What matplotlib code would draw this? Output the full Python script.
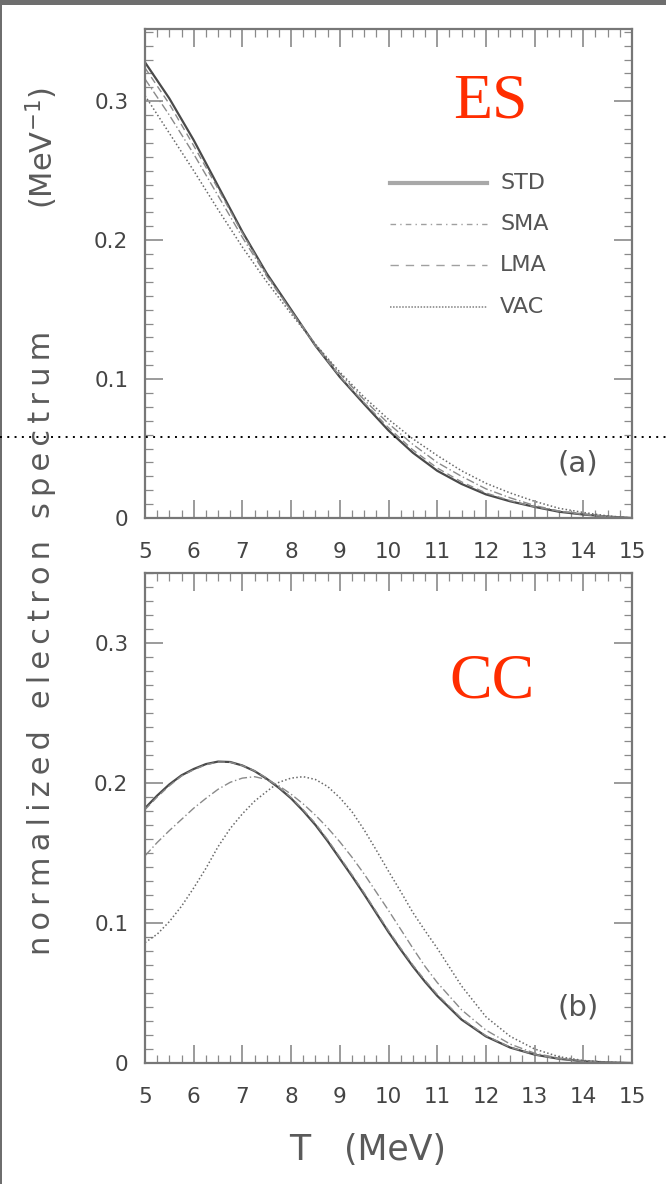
import numpy as np
import matplotlib.pyplot as plt
from matplotlib.lines import Line2D
from matplotlib.patches import Rectangle
from matplotlib.ticker import MultipleLocator

# kinetic energy grid (MeV) for panel (a)
T_es = [5.0, 5.5, 6.0, 6.5, 7.0, 7.5, 8.0, 8.5, 9.0, 9.5, 10.0,
        10.5, 11.0, 11.5, 12.0, 12.5, 13.0, 13.5, 14.0, 14.5, 15.0]

# (a) ES spectra
es_std = [0.328, 0.302, 0.272, 0.239, 0.206, 0.176, 0.150, 0.124, 0.1015, 0.082, 0.063,
          0.047, 0.034, 0.0245, 0.017, 0.012, 0.008, 0.0045, 0.0025, 0.001, 0.0]
es_sma = [0.316, 0.290, 0.262, 0.232, 0.202, 0.174, 0.149, 0.125, 0.104, 0.085, 0.068,
          0.053, 0.040, 0.030, 0.021, 0.0145, 0.009, 0.005, 0.003, 0.001, 0.0]
es_lma = [0.324, 0.298, 0.268, 0.237, 0.205, 0.175, 0.149, 0.124, 0.102, 0.083, 0.065,
          0.049, 0.036, 0.026, 0.018, 0.0125, 0.008, 0.005, 0.0025, 0.001, 0.0]
es_vac = [0.304, 0.277, 0.250, 0.222, 0.195, 0.170, 0.147, 0.125, 0.105, 0.087, 0.071,
          0.057, 0.045, 0.034, 0.025, 0.018, 0.012, 0.007, 0.004, 0.0015, 0.0]

# grid for panel (b), finer where the curves bend
T_cc = [5.0, 5.25, 5.5, 5.75, 6.0, 6.25, 6.5, 6.75, 7.0, 7.25, 7.5, 7.75,
        8.0, 8.25, 8.5, 8.75, 9.0, 9.25, 9.5, 9.75, 10.0, 10.25, 10.5, 10.75,
        11.0, 11.5, 12.0, 12.5, 13.0, 13.5, 14.0, 14.5, 15.0]

# (b) CC spectra
cc_std = [0.182, 0.191, 0.199, 0.2055, 0.210, 0.2135, 0.2153, 0.2150, 0.2125, 0.2085, 0.203, 0.1965,
          0.189, 0.180, 0.170, 0.1585, 0.146, 0.1335, 0.1205, 0.107, 0.0935, 0.081, 0.069, 0.058,
          0.048, 0.031, 0.019, 0.011, 0.006, 0.003, 0.0012, 0.0004, 0.0]
cc_sma = [0.148, 0.1575, 0.166, 0.174, 0.182, 0.189, 0.1955, 0.2005, 0.2035, 0.2045, 0.2025, 0.198,
          0.192, 0.185, 0.177, 0.168, 0.158, 0.147, 0.135, 0.122, 0.109, 0.0955, 0.082, 0.069,
          0.0575, 0.038, 0.0235, 0.0135, 0.007, 0.0035, 0.0015, 0.0005, 0.0]
cc_lma = [0.181, 0.190, 0.198, 0.205, 0.2095, 0.213, 0.215, 0.2148, 0.2125, 0.2087, 0.2035, 0.197,
          0.1897, 0.1808, 0.171, 0.1595, 0.147, 0.1345, 0.1215, 0.108, 0.0945, 0.082, 0.070, 0.059,
          0.049, 0.0318, 0.0195, 0.0113, 0.006, 0.003, 0.0012, 0.0004, 0.0]
cc_vac = [0.086, 0.092, 0.101, 0.112, 0.125, 0.139, 0.1545, 0.1675, 0.178, 0.187, 0.194, 0.2005,
          0.2035, 0.2045, 0.2025, 0.1975, 0.1895, 0.1795, 0.1665, 0.152, 0.137, 0.1225, 0.1075, 0.0945,
          0.082, 0.055, 0.033, 0.019, 0.010, 0.0045, 0.0018, 0.0006, 0.0]

labels = ['STD', 'SMA', 'LMA', 'VAC']
yticks = [0, 0.1, 0.2, 0.3]
ytick_labels = ['0', '0.1', '0.2', '0.3']
xticks = list(range(5, 16))

styles = {
    'STD': dict(color='#4a4a4a', ls='-', lw=1.6),
    'SMA': dict(color='#8a8a8a', ls=(0, (6, 2, 1, 2)), lw=1.0),
    'LMA': dict(color='#8a8a8a', ls=(0, (5, 3)), lw=1.0),
    'VAC': dict(color='#6a6a6a', ls=(0, (1, 1.5)), lw=1.1),
}
legend_styles = {
    'STD': dict(color='#a8a8a8', ls='-', lw=3.0),
    'SMA': dict(color='#a0a0a0', ls=(0, (4, 3, 1, 3)), lw=1.0),
    'LMA': dict(color='#a0a0a0', ls=(0, (6, 5)), lw=1.0),
    'VAC': dict(color='#808080', ls=(0, (1, 1)), lw=1.1),
}

W, H = 666, 1184
fig = plt.figure(figsize=(W / 100, H / 100), dpi=100)


def box(left, top, right, bottom):
    return [left / W, 1 - bottom / H, (right - left) / W, (bottom - top) / H]


ax1 = fig.add_axes(box(145, 29, 632, 518))
ax2 = fig.add_axes(box(145, 573, 632, 1063))

tick_color = '#444444'
for ax, ymax in ((ax1, 0.352), (ax2, 0.35)):
    ax.set_xlim(5, 15)
    ax.set_ylim(0, ymax)
    ax.set_xticks(xticks)
    ax.set_xticklabels([str(x) for x in xticks])
    ax.set_yticks(yticks)
    ax.set_yticklabels(ytick_labels)
    ax.xaxis.set_minor_locator(MultipleLocator(0.25))
    ax.yaxis.set_minor_locator(MultipleLocator(0.01))
    ax.tick_params(which='both', direction='in', top=True, right=True,
                   color='#8a8a8a', labelcolor=tick_color, labelsize=15.5)
    ax.tick_params(which='major', length=13, width=1.2)
    ax.tick_params(which='minor', length=6, width=0.9)
    ax.tick_params(axis='y', pad=12)
    ax.tick_params(axis='x', pad=17)
    for s in ax.spines.values():
        s.set_color('#777777')
        s.set_linewidth(1.6)

for ax, tt, data in ((ax1, T_es, (es_std, es_sma, es_lma, es_vac)),
                     (ax2, T_cc, (cc_std, cc_sma, cc_lma, cc_vac))):
    for name, y in zip(labels, data):
        ax.plot(tt, y, **styles[name])

# legend drawn by hand like the original
leg_y = [0.685, 0.601, 0.517, 0.431]
for name, yy in zip(labels, leg_y):
    ax1.add_line(Line2D([0.503, 0.702], [yy, yy], transform=ax1.transAxes,
                        **legend_styles[name]))
    ax1.text(0.729, yy, name, transform=ax1.transAxes, va='center', ha='left',
             fontsize=16, color='#555555')

ax1.text(0.889, 0.112, '(a)', transform=ax1.transAxes, ha='center', va='center',
         fontsize=21, color='#555555')
ax2.text(0.889, 0.114, '(b)', transform=ax2.transAxes, ha='center', va='center',
         fontsize=21, color='#555555')

red = '#ff2d00'
fig.text(490 / W, 1 - 103 / H, 'ES', family='Liberation Serif', fontsize=46,
         color=red, ha='center', va='center')
fig.text(492 / W, 1 - 682 / H, 'CC', family='Liberation Serif', fontsize=46,
         color=red, ha='center', va='center')

# y label: the original is widely letter-spaced, so put thin spaces between letters
lab_col = '#5a5a5a'
thin = '\u2009'
ylab = (thin + ' ' + thin).join(thin.join(w) for w in ['normalized', 'electron', 'spectrum'])
fig.text(42 / W, 1 - 955 / H, ylab, rotation=90, fontsize=22, color=lab_col,
         ha='center', va='bottom')
fig.text(42 / W, 1 - 148 / H, '(MeV$^{-1}$)', rotation=90, fontsize=22, color=lab_col,
         ha='center', va='center')

fig.text(300 / W, 1 - 1150 / H, 'T', fontsize=25, color=lab_col, ha='center', va='center')
fig.text(395 / W, 1 - 1150 / H, '(MeV)', fontsize=25, color=lab_col, ha='center', va='center')

# dotted guide across the whole page
fig.add_artist(Line2D([0, 1], [1 - 437 / H, 1 - 437 / H], transform=fig.transFigure,
                      color='black', lw=1.4, ls=(0, (1, 2.75))))

# grey frame edges
fig.add_artist(Rectangle((0, 1 - 5 / H), 1, 5 / H, transform=fig.transFigure,
                         color='#6e6e6e', lw=0))
fig.add_artist(Rectangle((0, 0), 2 / W, 1, transform=fig.transFigure,
                         color='#6e6e6e', lw=0))

fig.savefig('out.png', dpi=100)
